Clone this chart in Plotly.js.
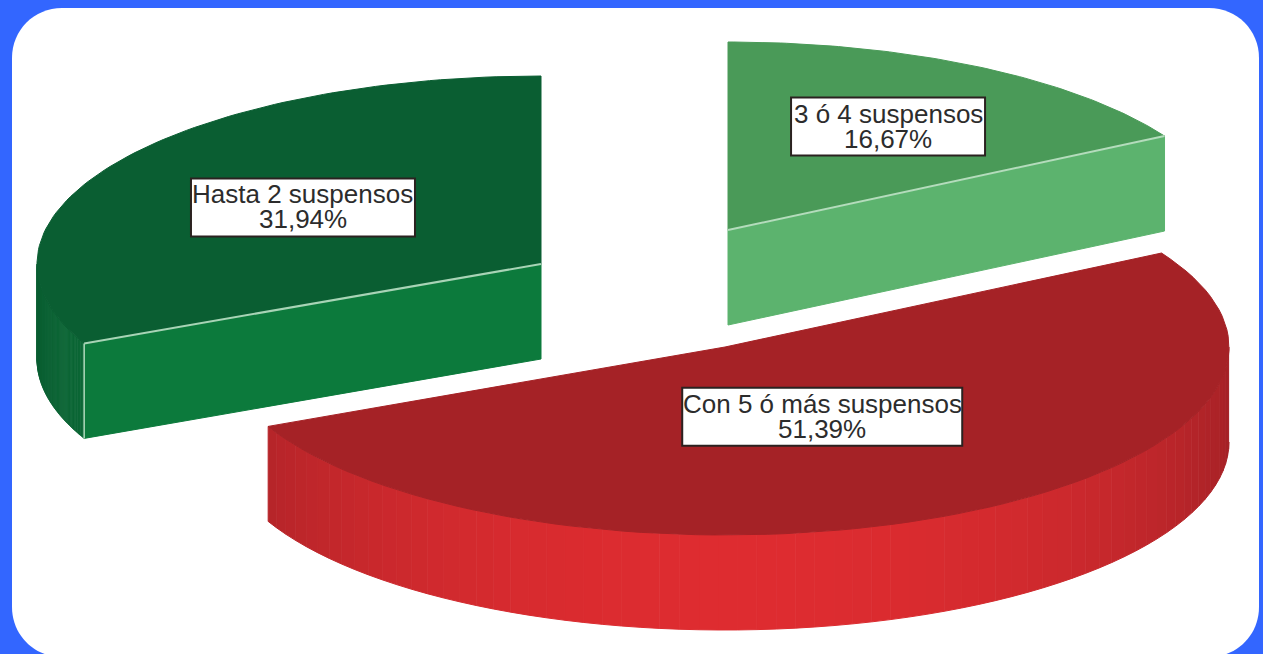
<!DOCTYPE html>
<html>
<head>
<meta charset="utf-8">
<script src="https://cdn.plot.ly/plotly-3.0.1.min.js"></script>
<style>html,body{margin:0;padding:0;background:#3366ff;overflow:hidden}#chart{width:1263px;height:654px}</style>
</head>
<body>
<div id="chart"></div>
<script>
// ---- chart data (clockwise from 12 o'clock) ----
const categories = ['3 ó 4 suspensos', 'Con 5 ó más suspensos', 'Hasta 2 suspensos'];
const shares = [16.67, 51.39, 31.94];
const shareLabels = ['16,67%', '51,39%', '31,94%'];

// ---- geometry and style of the drawing ----
const W = 1263, H = 654;
const RX = 504, RY = 188, DEPTH = 95;
const centres = [[728, 230], [725, 347], [541, 264]];
const labelRadius = [0.635, 0.418, 0.56];
const boxWidths = [194, 280, 224];
const BOX_H = 58;
const topColours = ['#4a9a58', '#a52226', '#0a5e32'];
const faceColours = ['#5cb36e', '#b5262b', '#0c7a3c'];
const wallDark = [[74,154,88], [163,33,38], [10,94,50]];
const wallBright = [[92,179,110], [222,44,48], [12,122,60]];

const deg = Math.PI / 180;
const px = (c, a, f = 1) => c[0] + RX * f * Math.sin(a * deg);
const py = (c, a, f = 1) => c[1] - RY * f * Math.cos(a * deg);
const mix = (p, q, t) => 'rgb(' + p.map((v, i) => Math.round(v + (q[i] - v) * t)).join(',') + ')';

function poly(xs, ys, colour) {
  return {type: 'scatter', mode: 'lines', x: xs, y: ys, fill: 'toself', fillcolor: colour,
          line: {color: colour, width: 1}, hoverinfo: 'skip', showlegend: false};
}
function stroke(xs, ys, colour, width) {
  return {type: 'scatter', mode: 'lines', x: xs, y: ys, line: {color: colour, width: width},
          hoverinfo: 'skip', showlegend: false};
}

const traces = [];
const shapes = [{
  type: 'path', xref: 'x', yref: 'y', layer: 'below', line: {width: 0}, fillcolor: '#ffffff',
  path: 'M12 58 C12 30 34 8 62 8 L1209 8 C1237 8 1259 30 1259 58 L1259 607 C1259 635 1237 657 1209 657 L62 657 C34 657 12 635 12 607 Z'
}];
const annotations = [];

let start = 0;
shares.forEach((share, i) => {
  const sweep = share * 3.6, end = start + sweep, c = centres[i];
  const arc = [];
  for (let a = start; a <= end + 1e-6; a += sweep / 90) arc.push(a);

  // outer wall: only the part facing the viewer, cut into shaded bands
  const wallFrom = Math.max(start, 90), wallTo = Math.min(end, 270);
  const bands = 70;
  if (wallTo > wallFrom) {
    for (let b = 0; b < bands; b++) {
      const a0 = wallFrom + (wallTo - wallFrom) * b / bands;
      const a1 = wallFrom + (wallTo - wallFrom) * (b + 1) / bands;
      const t = Math.pow(Math.max(0, Math.cos((a0 - 178) * deg)), 1.3);
      const xs = [], ys = [];
      for (let k = 0; k <= 3; k++) { const a = a0 + (a1 - a0) * k / 3; xs.push(px(c, a)); ys.push(py(c, a)); }
      for (let k = 3; k >= 0; k--) { const a = a0 + (a1 - a0) * k / 3; xs.push(px(c, a)); ys.push(py(c, a) + DEPTH); }
      traces.push(poly(xs, ys, mix(wallDark[i], wallBright[i], t)));
    }
  }

  // cut face that looks at the viewer
  const faceAngle = i === 0 ? end : (i === 2 ? start : null);
  if (faceAngle !== null) {
    const ex = px(c, faceAngle), ey = py(c, faceAngle);
    traces.push(poly([c[0], ex, ex, c[0], c[0]], [c[1], ey, ey + DEPTH, c[1] + DEPTH, c[1]], faceColours[i]));
  }

  // top surface
  traces.push(poly([c[0]].concat(arc.map(a => px(c, a)), [c[0]]),
                   [c[1]].concat(arc.map(a => py(c, a)), [c[1]]), topColours[i]));

  // pale highlight along the cut
  if (faceAngle !== null) {
    const ex = px(c, faceAngle), ey = py(c, faceAngle);
    const pale = i === 0 ? '#b4dcbc' : '#a8d4b6';
    traces.push(stroke([c[0], ex], [c[1], ey], pale, 2));
    if (i === 2) traces.push(stroke([ex, ex], [ey, ey + DEPTH], pale, 1.6));
  }

  // label box and its two text lines
  const mid = start + sweep / 2;
  const lx = px(c, mid, labelRadius[i]), ly = py(c, mid, labelRadius[i]);
  shapes.push({type: 'rect', xref: 'x', yref: 'y', layer: 'above',
    x0: lx - boxWidths[i] / 2, x1: lx + boxWidths[i] / 2, y0: ly - BOX_H / 2, y1: ly + BOX_H / 2,
    fillcolor: '#ffffff', line: {color: '#2b2220', width: 2}});
  const font = {family: '"Liberation Sans", Arial, sans-serif', size: 26, color: '#2c2c2c'};
  annotations.push({xref: 'x', yref: 'y', x: lx, y: ly - 13, text: categories[i], showarrow: false, font: font, xanchor: 'center', yanchor: 'middle'});
  annotations.push({xref: 'x', yref: 'y', x: lx, y: ly + 12, text: shareLabels[i], showarrow: false, font: font, xanchor: 'center', yanchor: 'middle'});

  start = end;
});

const hidden = {visible: false, fixedrange: true};
Plotly.newPlot('chart', traces, {
  width: W, height: H, margin: {l: 0, r: 0, t: 0, b: 0},
  paper_bgcolor: '#3366ff', plot_bgcolor: 'rgba(0,0,0,0)', showlegend: false,
  xaxis: Object.assign({range: [0, W]}, hidden),
  yaxis: Object.assign({range: [H, 0]}, hidden),
  shapes: shapes, annotations: annotations
}, {displayModeBar: false, staticPlot: true});
</script>
</body>
</html>
